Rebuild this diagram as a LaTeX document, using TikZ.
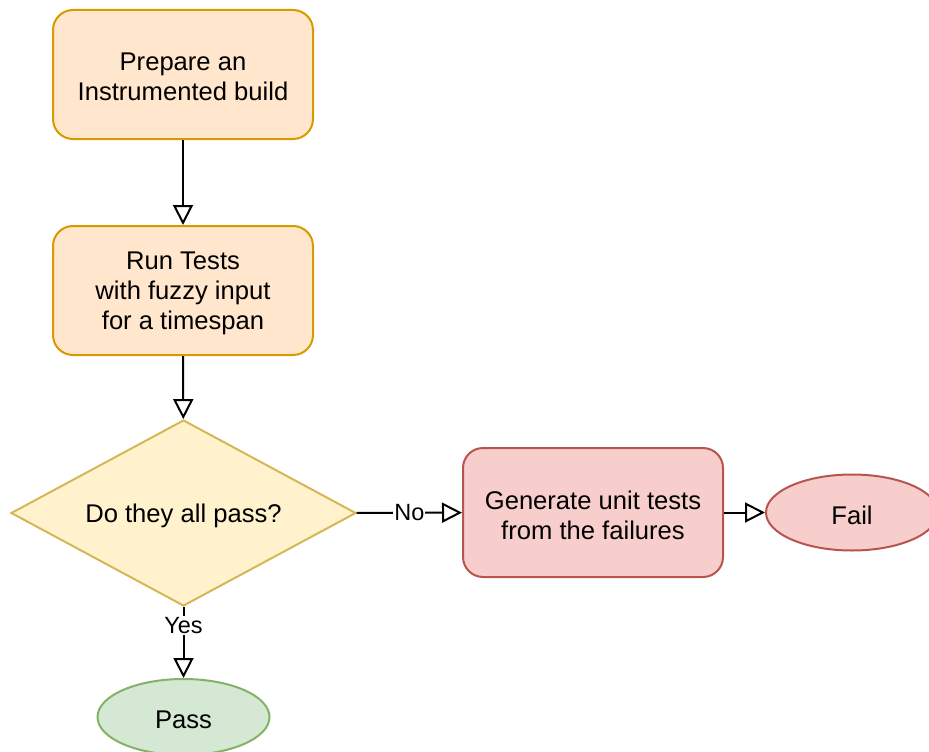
\documentclass[tikz,border=0pt]{standalone}
\usepackage{fontspec}
\setmainfont{Liberation Sans}
\usetikzlibrary{arrows.meta,shapes.geometric}

\definecolor{orangefill}{HTML}{FFE6CC}
\definecolor{orangeline}{HTML}{D79B00}
\definecolor{yellowfill}{HTML}{FFF2CC}
\definecolor{yellowline}{HTML}{D6B656}
\definecolor{redfill}{HTML}{F8CECC}
\definecolor{redline}{HTML}{B85450}
\definecolor{greenfill}{HTML}{D5E8D4}
\definecolor{greenline}{HTML}{82B366}

\tikzset{
  base/.style={draw, line width=2pt, inner sep=0pt},
  caption/.style={label={[align=center, inner sep=0pt, yshift=-2.5pt,
    font=\fontsize{25.6}{30}\selectfont]center:#1}},
  stepbox/.style={base, rectangle, rounded corners=20pt,
    minimum width=260pt, minimum height=129pt},
  decision/.style={base, diamond, aspect=1.85,
    minimum width=345pt, minimum height=186pt,
    fill=yellowfill, draw=yellowline},
  terminal/.style={base, ellipse, minimum width=172pt, minimum height=76pt},
  flow/.style={line width=2pt,
    -{Triangle[open, length=20pt, width=20pt, fill=white]}},
  edgelabel/.style={fill=white, inner sep=1pt,
    font=\fontsize{23.5}{28}\selectfont}
}

\begin{document}
\begin{tikzpicture}[x=1pt, y=-1pt]
  \useasboundingbox (0,0) rectangle (929,752);
  \clip (0,0) rectangle (929,752);

  \node[stepbox, fill=orangefill, draw=orangeline,
    caption={Prepare an\\Instrumented build}] (prep) at (183,74.5) {};
  \node[stepbox, fill=orangefill, draw=orangeline,
    caption={Run Tests\\with fuzzy input\\for a timespan}] (run) at (183,290.5) {};
  \node[decision, caption={Do they all pass?}] (check) at (183.5,513) {};
  \node[stepbox, fill=redfill, draw=redline,
    caption={Generate unit tests\\from the failures}] (gen) at (593,512.5) {};
  \node[terminal, fill=redfill, draw=redline, caption={Fail}] (fail) at (852,512.5) {};
  \node[terminal, fill=greenfill, draw=greenline, caption={Pass}] (pass) at (183.5,717) {};

  \draw[flow] (prep) -- (run);
  \draw[flow] (run) -- (check);
  \draw[flow] (check) -- node[edgelabel] {No} (gen);
  \draw[flow] (check.south) -- node[edgelabel, pos=0.26] {Yes} (pass);
  \draw[flow] (gen) -- (fail);
\end{tikzpicture}
\end{document}
